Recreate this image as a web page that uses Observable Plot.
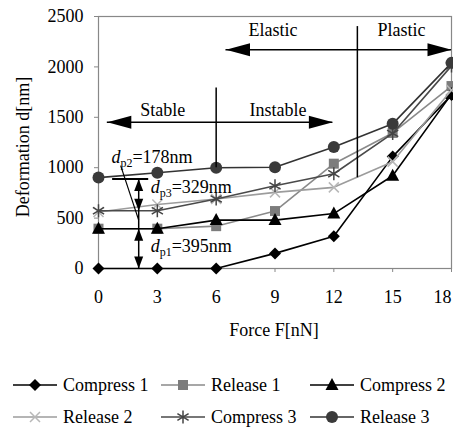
<!DOCTYPE html>
<html><head><meta charset="utf-8">
<script src="https://cdn.jsdelivr.net/npm/d3@7"></script>
<script src="https://cdn.jsdelivr.net/npm/@observablehq/plot@0.6"></script>
<style>
body{margin:0;background:#fff;font-family:"Liberation Serif","Times New Roman",serif;}
#wrap{width:453px;}
#legend{position:relative;width:453px;height:78px;}
.item{position:absolute;display:flex;align-items:center;height:22px;font-size:18px;white-space:nowrap;color:#000;}
.item svg{display:block;margin-right:6px;}
</style></head><body><div id="wrap"><div id="chart"></div><div id="legend"></div></div>
<script>
// ---- data ----
const force = [0, 3, 6, 9, 12, 15, 18];
const seriesNames = ["Compress 1", "Release 1", "Compress 2", "Release 2", "Compress 3", "Release 3"];
const compress1 = [0, 0, 0, 150, 320, 1110, 1720];
const release1  = [395, 395, 420, 570, 1040, 1345, 1810];
const compress2 = [395, 395, 480, 480, 545, 920, 1730];
const release2  = [560, 635, 690, 755, 805, 1060, 1770];
const compress3 = [573, 573, 690, 820, 940, 1340, 2010];
const release3  = [902, 950, 1000, 1005, 1205, 1435, 2040];
const xTicks = [0, 3, 6, 9, 12, 15, 18];
const yTicks = [0, 500, 1000, 1500, 2000, 2500];
const xLabel = "Force F[nN]";
const yLabel = "Deformation d[nm]";

// annotations (data units)
const regionLabels = [
  {x: 3.27, y: 1566, text: "Stable"},
  {x: 9.15, y: 1566, text: "Instable"},
  {x: 8.9, y: 2360, text: "Elastic"},
  {x: 15.45, y: 2360, text: "Plastic"}
];
const hArrows = [{x1: 0.45, x2: 11.95, y: 1450}, {x1: 6.5, x2: 18, y: 2170}];
const vDividers = [{x: 6, y1: 1000, y2: 1790}, {x: 13.2, y1: 900, y2: 2400}];
const headsLeft = [{x: 0.45, y: 1450}, {x: 6.5, y: 2170}];
const headsRight = [{x: 11.95, y: 1450}, {x: 18, y: 2170}];
const dpLine = [{x: 2.05, y1: 0, y2: 888}];
const dpBar = [{x1: 0.72, x2: 2.56, y: 888}];
const headsUp = [{x: 2.05, y: 395}, {x: 2.05, y: 888}];
const headsDown = [{x: 2.05, y: 0}, {x: 2.05, y: 573}];
const leader = [{x1: 1.13, y1: 1020, x2: 2.05, y2: 480}];
const dpLabels = [
  {x: 0.66, y: 1103, sub: "p2", val: "=178nm"},
  {x: 2.66, y: 805, sub: "p3", val: "=329nm"},
  {x: 2.66, y: 225, sub: "p1", val: "=395nm"}
];

// ---- styles ----
const FONT = '"Liberation Serif", "Times New Roman", serif';
const symbols = {
  diamond: {draw(c){c.moveTo(0,-6);c.lineTo(6,0);c.lineTo(0,6);c.lineTo(-6,0);c.closePath();}},
  square: {draw(c){c.rect(-5,-5,10,10);}},
  triangle: {draw(c){c.moveTo(0,-7);c.lineTo(6.5,5);c.lineTo(-6.5,5);c.closePath();}},
  times: {draw(c){c.moveTo(-5,-5);c.lineTo(5,5);c.moveTo(5,-5);c.lineTo(-5,5);}},
  asterisk: {draw(c){c.moveTo(0,-6.5);c.lineTo(0,6.5);c.moveTo(-5.6,-3.3);c.lineTo(5.6,3.3);c.moveTo(5.6,-3.3);c.lineTo(-5.6,3.3);}},
  circle: {draw(c){c.moveTo(6,0);c.arc(0,0,6,0,2*Math.PI);}}
};
const arrowSyms = {
  left: {draw(c){c.moveTo(0,0);c.lineTo(24,-6.5);c.lineTo(24,6.5);c.closePath();}},
  right: {draw(c){c.moveTo(0,0);c.lineTo(-24,-6.5);c.lineTo(-24,6.5);c.closePath();}},
  up: {draw(c){c.moveTo(0,0);c.lineTo(-4.5,12);c.lineTo(4.5,12);c.closePath();}},
  down: {draw(c){c.moveTo(0,0);c.lineTo(-4.5,-12);c.lineTo(4.5,-12);c.closePath();}}
};
const seriesStyle = {
  "Compress 1": {line: "#000", sym: "diamond", fill: "#000"},
  "Release 1": {line: "#8a8a8a", sym: "square", fill: "#7c7c7c"},
  "Compress 2": {line: "#000", sym: "triangle", fill: "#000"},
  "Release 2": {line: "#9c9c9c", sym: "times", stroke: "#b8b8b8"},
  "Compress 3": {line: "#4a4a4a", sym: "asterisk", stroke: "#444"},
  "Release 3": {line: "#333", sym: "circle", fill: "#3a3a3a"}
};

const seriesValues = [compress1, release1, compress2, release2, compress3, release3];
const rows = seriesNames.flatMap((name, s) => force.map((f, i) => ({series: name, force: f, value: seriesValues[s][i]})));

const seriesMarks = seriesNames.flatMap(name => {
  const st = seriesStyle[name];
  const data = rows.filter(r => r.series === name);
  const dotOpts = st.fill
    ? {x: "force", y: "value", symbol: symbols[st.sym], fill: st.fill, stroke: "none"}
    : {x: "force", y: "value", symbol: symbols[st.sym], fill: "none", stroke: st.stroke, strokeWidth: 1.5};
  return [
    Plot.line(data, {x: "force", y: "value", stroke: st.line, strokeWidth: 1.6}),
    Plot.dot(data, dotOpts)
  ];
});

const plot = Plot.plot({
  width: 453,
  height: 350,
  marginLeft: 98,
  marginRight: 2,
  marginTop: 16,
  marginBottom: 82,
  style: {fontSize: "18px", background: "#fff", color: "#000", overflow: "visible"},
  x: {domain: [0, 18], ticks: xTicks, tickSize: 4, tickPadding: 18, tickFormat: d3.format("d"), label: null},
  y: {domain: [0, 2500], ticks: yTicks, tickSize: 4, tickPadding: 11, tickFormat: d3.format("d"), label: null},
  marks: [
    Plot.frame({stroke: "#888", strokeWidth: 1.2}),
    ...seriesMarks,
    Plot.ruleY(hArrows, {y: "y", x1: "x1", x2: "x2", stroke: "#000", strokeWidth: 1.5}),
    Plot.ruleX(vDividers, {x: "x", y1: "y1", y2: "y2", stroke: "#000", strokeWidth: 1.5}),
    Plot.dot(headsLeft, {x: "x", y: "y", symbol: arrowSyms.left, fill: "#000", stroke: "none"}),
    Plot.dot(headsRight, {x: "x", y: "y", symbol: arrowSyms.right, fill: "#000", stroke: "none"}),
    Plot.ruleX(dpLine, {x: "x", y1: "y1", y2: "y2", stroke: "#000", strokeWidth: 1.5}),
    Plot.ruleY(dpBar, {y: "y", x1: "x1", x2: "x2", stroke: "#000", strokeWidth: 2}),
    Plot.dot(headsUp, {x: "x", y: "y", symbol: arrowSyms.up, fill: "#000", stroke: "none"}),
    Plot.dot(headsDown, {x: "x", y: "y", symbol: arrowSyms.down, fill: "#000", stroke: "none"}),
    Plot.link(leader, {x1: "x1", y1: "y1", x2: "x2", y2: "y2", stroke: "#000", strokeWidth: 1.2}),
    Plot.text(regionLabels, {x: "x", y: "y", text: "text", fill: "#000", fontSize: 18, fontFamily: FONT}),
    Plot.text(dpLabels, {x: "x", y: "y", text: d => "d" + d.sub + d.val, textAnchor: "start", fill: "#000", fontSize: 18, fontFamily: FONT, className: "dp"})
  ]
});

const svg = d3.select(plot);
// subscripts in d_p labels
svg.selectAll("g.dp text").each(function(i) {
  const d = dpLabels[i];
  const t = d3.select(this);
  t.text(null);
  t.append("tspan").attr("font-style", "italic").text("d");
  t.append("tspan").attr("font-size", "12px").attr("dy", "4").text(d.sub);
  t.append("tspan").attr("dy", "-4").text(d.val);
});
// gray tick marks
svg.selectAll("g[aria-label*='axis'] line, g[aria-label*='axis'] path").attr("stroke", "#888");
// keep the last x tick label inside the page, as in the reference
svg.selectAll("g[aria-label^='x-axis'] text").filter(function() { return this.textContent === "18"; }).attr("dx", -9);
// axis titles
svg.append("text").attr("x", 274).attr("y", 330).attr("dy", "0.35em").attr("text-anchor", "middle")
  .attr("fill", "#000").attr("font-size", 18).text(xLabel);
svg.append("text").attr("transform", "translate(23,147) rotate(-90)").attr("dy", "0.35em").attr("text-anchor", "middle")
  .attr("fill", "#000").attr("font-size", 18).text(yLabel);
// serif font on every text of the chart
svg.style("font-family", FONT);
svg.selectAll("g").attr("font-family", null);
svg.selectAll("text").style("font-family", FONT).style("font-variant", "normal");

document.getElementById("chart").appendChild(plot);

// ---- legend ----
const legendCols = [13, 161, 310];
const legendRows = [35, 67];
const legend = d3.select("#legend");
seriesNames.forEach((name, i) => {
  const st = seriesStyle[name];
  const item = legend.append("div").attr("class", "item")
    .style("left", legendCols[i % 3] + "px").style("top", (legendRows[Math.floor(i / 3)] - 11) + "px");
  const s = item.append("svg").attr("width", 44).attr("height", 22);
  s.append("line").attr("x1", 0).attr("x2", 44).attr("y1", 11).attr("y2", 11).attr("stroke", st.line).attr("stroke-width", 1.6);
  const p = s.append("path").attr("transform", "translate(22,11)").attr("d", d3.symbol().type(symbols[st.sym])());
  if (st.fill) p.attr("fill", st.fill); else p.attr("fill", "none").attr("stroke", st.stroke).attr("stroke-width", 1.5);
  item.append("span").text(name);
});
</script></body></html>
